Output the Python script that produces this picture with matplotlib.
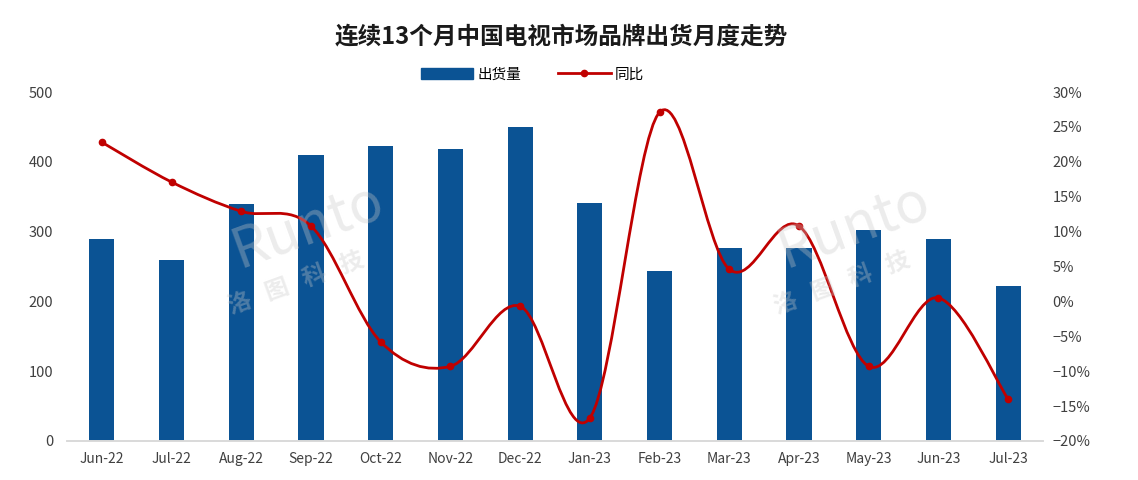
import matplotlib
matplotlib.use('Agg')
import matplotlib.pyplot as plt
from matplotlib.path import Path
from matplotlib.patches import PathPatch, Patch
from matplotlib.lines import Line2D
from matplotlib.ticker import PercentFormatter
import numpy as np

plt.rcParams['font.family'] = ['Noto Sans CJK SC', 'DejaVu Sans']

months = ['Jun-22', 'Jul-22', 'Aug-22', 'Sep-22', 'Oct-22', 'Nov-22', 'Dec-22',
          'Jan-23', 'Feb-23', 'Mar-23', 'Apr-23', 'May-23', 'Jun-23', 'Jul-23']
shipments = [289, 259, 340, 410, 423, 418, 450, 341, 244, 277, 277, 302, 290, 222]
yoy = [22.8, 17.1, 12.9, 10.8, -5.8, -9.3, -0.7, -16.7, 27.1, 4.6, 10.8, -9.3, 0.5, -14.0]

title = '连续13个月中国电视市场品牌出货月度走势'

bar_color = '#0b5394'
line_color = '#c00000'


def smooth_path(xs, ys):
    # excel-like smoothed line: catmull-rom segments as cubic beziers
    pts = np.column_stack([xs, ys]).astype(float)
    verts = [pts[0]]
    codes = [Path.MOVETO]
    n = len(pts)
    for i in range(n - 1):
        p0 = pts[i - 1] if i > 0 else pts[i]
        p1 = pts[i]
        p2 = pts[i + 1]
        p3 = pts[i + 2] if i + 2 < n else pts[i + 1]
        c1 = p1 + (p2 - p0) / 6.0
        c2 = p2 - (p3 - p1) / 6.0
        verts += [c1, c2, p2]
        codes += [Path.CURVE4] * 3
    return Path(verts, codes)


fig = plt.figure(figsize=(11.38, 4.8), dpi=100)
ax = fig.add_axes([0.0589, 0.0813, 0.8576, 0.727])
x = np.arange(len(months))

ax.bar(x, shipments, width=0.36, color=bar_color, zorder=2)
ax.set_xlim(-0.5, len(months) - 0.5)
ax.set_ylim(0, 500)
ax.set_yticks(range(0, 501, 100))
ax.set_xticks(x)
ax.set_xticklabels(months)

ax2 = ax.twinx()
ax2.set_ylim(-20, 30)
ax2.set_yticks(range(-20, 31, 5))
ax2.yaxis.set_major_formatter(PercentFormatter(decimals=0))
ax2.add_patch(PathPatch(smooth_path(x, yoy), facecolor='none', edgecolor=line_color,
                        lw=2, zorder=3))
ax2.plot(x, yoy, linestyle='none', marker='o', markersize=4.5, color=line_color, zorder=4)

for a in (ax, ax2):
    for s in ('top', 'right', 'left'):
        a.spines[s].set_visible(False)
    a.spines['bottom'].set_color('#d9d9d9')
    a.spines['bottom'].set_linewidth(1.2)
    a.tick_params(length=0, labelsize=10.5, colors='#404040')
ax.tick_params(axis='y', pad=10)
ax.tick_params(axis='x', pad=8, labelsize=10)
ax2.tick_params(axis='y', pad=7)

# watermark
for wx, wy in [(0.27, 0.47), (0.75, 0.47)]:
    fig.text(wx, wy + 0.06, 'Runto', fontsize=40, style='italic', color='#c8c8c8',
             alpha=0.35, rotation=20, ha='center', va='center', zorder=10)
    fig.text(wx - 0.01, wy - 0.06, '洛   图   科   技', fontsize=17, fontweight='bold',
             color='#c8c8c8', alpha=0.35, rotation=20, ha='center', va='center', zorder=10)

fig.text(0.493, 0.925, title, fontsize=17, fontweight='bold', ha='center', va='center',
         color='#1a1a1a')

# legend
handles = [Patch(color=bar_color), Line2D([], [], color=line_color, lw=2, marker='o', markersize=4.5)]
fig.legend(handles, ['出货量', '同比'], loc='center', bbox_to_anchor=(0.468, 0.845), ncol=2,
           frameon=False, fontsize=10.5, handlelength=3.6, handleheight=0.8, columnspacing=2.5,
           handletextpad=0.3)

fig.savefig('out.png', dpi=100)
